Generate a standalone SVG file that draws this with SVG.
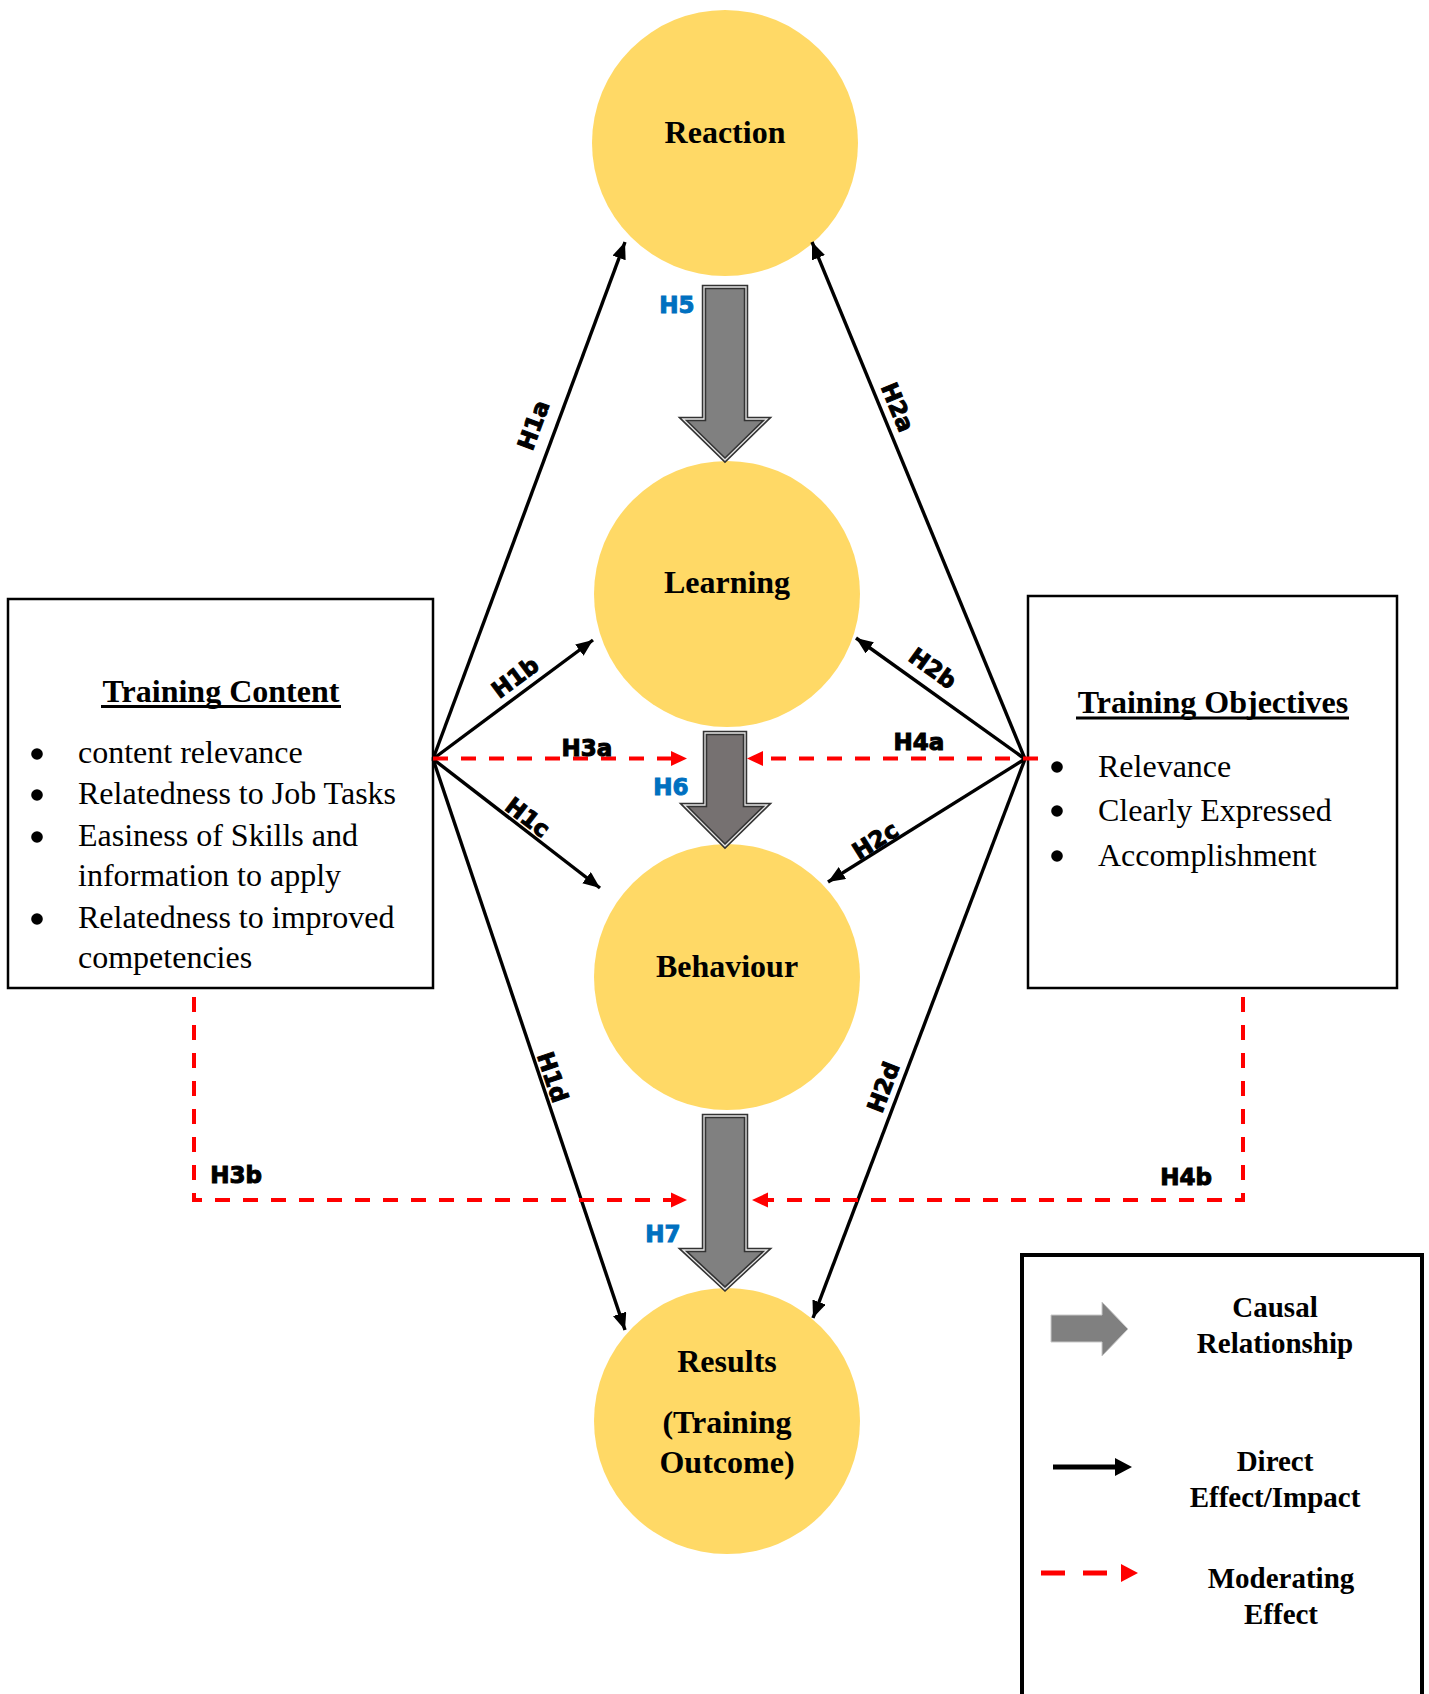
<svg xmlns="http://www.w3.org/2000/svg" width="1429" height="1694" viewBox="0 0 1429 1694">
<style>
.circ{fill:#FFD966}
.ct{font-family:"Liberation Serif","Times New Roman",serif;font-weight:bold;font-size:32px;text-anchor:middle;fill:#000}
.bt{font-family:"Liberation Serif","Times New Roman",serif;font-size:32px;fill:#000}
.lt{font-family:"Liberation Serif","Times New Roman",serif;font-weight:bold;font-size:29px;text-anchor:middle;fill:#000}
.box{fill:#fff;stroke:#000;stroke-width:2.5}
.ln{stroke:#000;stroke-width:3.4;fill:none}
.rd{stroke:#FF0000;stroke-width:4;fill:none;stroke-dasharray:15 13}
.rh{fill:#FF0000}
.hl{font-family:"DejaVu Sans","Liberation Sans",sans-serif;font-weight:bold;font-size:23px;text-anchor:middle;fill:#000;stroke:#000;stroke-width:1}
.hb{font-family:"DejaVu Sans","Liberation Sans",sans-serif;font-weight:bold;font-size:23px;text-anchor:middle;fill:#0070C0;stroke:#0070C0;stroke-width:1}
.blk{stroke:#333;stroke-width:4.5;stroke-linejoin:miter}
.blk2{fill:none;stroke:#e6e6e6;stroke-width:1.3}
</style>
<defs>
<marker id="ah" markerUnits="userSpaceOnUse" markerWidth="20" markerHeight="16" refX="17" refY="7" orient="auto">
<path d="M0,0 L17,7 L0,14 z" fill="#000"/>
</marker>
</defs>
<rect width="1429" height="1694" fill="#fff"/>

<g id="reaction">
<circle class="circ" cx="725" cy="143" r="133"/>
<text class="ct" x="725" y="143">Reaction</text>
</g>
<g id="learning">
<circle class="circ" cx="727" cy="594" r="133"/>
<text class="ct" x="727" y="593">Learning</text>
</g>
<g id="behaviour">
<circle class="circ" cx="727" cy="977" r="133"/>
<text class="ct" x="727" y="977">Behaviour</text>
</g>
<g id="results">
<circle class="circ" cx="727" cy="1421" r="133"/>
<text class="ct" x="727" y="1372">Results</text>
<text class="ct" x="727" y="1433">(Training</text>
<text class="ct" x="727" y="1473">Outcome)</text>
</g>

<g id="training-content">
<rect class="box" x="8" y="599" width="425" height="389"/>
<text class="ct" x="221" y="702">Training Content</text>
<line x1="101" y1="706.5" x2="341" y2="706.5" stroke="#000" stroke-width="3"/>
<circle cx="37" cy="754" r="5.8"/>
<circle cx="37" cy="795" r="5.8"/>
<circle cx="37" cy="837" r="5.8"/>
<circle cx="37" cy="919" r="5.8"/>
<text class="bt" x="78" y="763">content relevance</text>
<text class="bt" x="78" y="804">Relatedness to Job Tasks</text>
<text class="bt" x="78" y="846">Easiness of Skills and</text>
<text class="bt" x="78" y="886">information to apply</text>
<text class="bt" x="78" y="928">Relatedness to improved</text>
<text class="bt" x="78" y="968">competencies</text>
</g>

<g id="training-objectives">
<rect class="box" x="1028" y="596" width="369" height="392"/>
<text class="ct" x="1213" y="713">Training Objectives</text>
<line x1="1076" y1="718" x2="1349" y2="718" stroke="#000" stroke-width="3"/>
<circle cx="1057" cy="767" r="5.8"/>
<circle cx="1057" cy="811" r="5.8"/>
<circle cx="1057" cy="856" r="5.8"/>
<text class="bt" x="1098" y="777">Relevance</text>
<text class="bt" x="1098" y="821">Clearly Expressed</text>
<text class="bt" x="1098" y="866">Accomplishment</text>
</g>

<g id="connectors">
<g id="h5">
<path class="blk" fill="#808080" d="M704,287 H746 V419 H767 L725,460 L683,419 H704 Z"/>
<path class="blk2" d="M704,287 H746 V419 H767 L725,460 L683,419 H704 Z"/>
</g>
<g id="h6">
<path class="blk" fill="#767171" d="M705,733 H745 V805 H767 L725,846 L684,805 H705 Z"/>
<path class="blk2" d="M705,733 H745 V805 H767 L725,846 L684,805 H705 Z"/>
</g>
<g id="h7">
<path class="blk" fill="#808080" d="M704,1116 H746 V1250 H767 L725,1289 L683,1250 H704 Z"/>
<path class="blk2" d="M704,1116 H746 V1250 H767 L725,1289 L683,1250 H704 Z"/>
</g>

<line class="ln" x1="433" y1="759" x2="625" y2="242" marker-end="url(#ah)"/>
<line class="ln" x1="433" y1="759" x2="593" y2="640" marker-end="url(#ah)"/>
<line class="ln" x1="433" y1="759" x2="600" y2="888" marker-end="url(#ah)"/>
<line class="ln" x1="433" y1="759" x2="625" y2="1330" marker-end="url(#ah)"/>
<line class="ln" x1="1025" y1="759" x2="812" y2="242" marker-end="url(#ah)"/>
<line class="ln" x1="1025" y1="759" x2="856" y2="638" marker-end="url(#ah)"/>
<line class="ln" x1="1025" y1="759" x2="828" y2="882" marker-end="url(#ah)"/>
<line class="ln" x1="1025" y1="759" x2="813" y2="1318" marker-end="url(#ah)"/>

<line class="rd" x1="433" y1="758.5" x2="671" y2="758.5"/>
<polygon class="rh" points="671,751 687,758.5 671,766"/>
<line class="rd" x1="1038" y1="758.5" x2="763" y2="758.5"/>
<polygon class="rh" points="763,751 747,758.5 763,766"/>
<path class="rd" d="M194,997 V1200 H671"/>
<polygon class="rh" points="671,1192.5 687,1200 671,1207.5"/>
<path class="rd" d="M1243,997 V1200 H768"/>
<polygon class="rh" points="768,1192.5 752,1200 768,1207.5"/>

<text class="hl" transform="translate(533,425) rotate(-69.7)" x="0" y="8.5">H1a</text>
<text class="hl" transform="translate(898,407) rotate(67.6)" x="0" y="8.5">H2a</text>
<text class="hl" transform="translate(515,677) rotate(-36.6)" x="0" y="8.5">H1b</text>
<text class="hl" transform="translate(933,668) rotate(35.6)" x="0" y="8.5">H2b</text>
<text class="hl" transform="translate(528,817) rotate(37.7)" x="0" y="8.5">H1c</text>
<text class="hl" transform="translate(875,840) rotate(-32)" x="0" y="8.5">H2c</text>
<text class="hl" transform="translate(553,1077) rotate(71.4)" x="0" y="8.5">H1d</text>
<text class="hl" transform="translate(883,1087) rotate(-69.2)" x="0" y="8.5">H2d</text>
<text class="hl" x="587" y="756">H3a</text>
<text class="hl" x="919" y="750">H4a</text>
<text class="hl" x="236" y="1183">H3b</text>
<text class="hl" x="1186" y="1185">H4b</text>
<text class="hb" x="677" y="313">H5</text>
<text class="hb" x="671" y="795">H6</text>
<text class="hb" x="663" y="1242">H7</text>
</g>

<g id="legend">
<rect x="1022" y="1255" width="400" height="450" fill="#fff" stroke="#000" stroke-width="4"/>
<path d="M1051,1315 H1102 V1302 L1128,1329 L1102,1356 V1342 H1051 Z" fill="#808080" stroke="#c8c8c8" stroke-width="1"/>
<text class="lt" x="1275" y="1317">Causal</text>
<text class="lt" x="1275" y="1353">Relationship</text>
<line x1="1053" y1="1467" x2="1117" y2="1467" stroke="#000" stroke-width="5"/>
<polygon points="1115,1458 1132,1467 1115,1476" fill="#000"/>
<text class="lt" x="1275" y="1471">Direct</text>
<text class="lt" x="1275" y="1507">Effect/Impact</text>
<rect x="1041" y="1570.5" width="24" height="5" fill="#FF0000"/>
<rect x="1083" y="1570.5" width="24" height="5" fill="#FF0000"/>
<polygon points="1121,1564 1138,1573 1121,1582" fill="#FF0000"/>
<text class="lt" x="1281" y="1588">Moderating</text>
<text class="lt" x="1281" y="1624">Effect</text>
</g>
</svg>
